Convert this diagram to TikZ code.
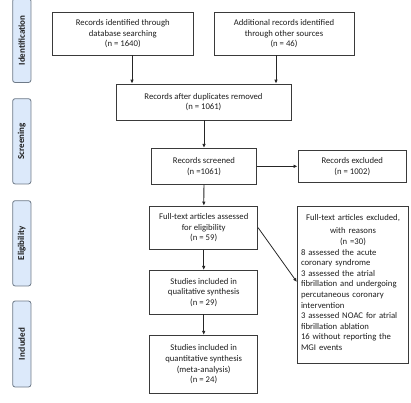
\documentclass[tikz,border=0pt]{standalone}
\usepackage{fontspec}
\setmainfont{Carlito}
\usetikzlibrary{arrows.meta}
\definecolor{tabfill}{HTML}{DCE9FA}
\definecolor{tabdraw}{HTML}{6E7A88}
\definecolor{boxdraw}{HTML}{3A3A3A}
\definecolor{txt}{HTML}{1E1E1E}
\tikzset{
  tab/.style={draw=tabdraw, fill=tabfill, rounded corners=2.5pt, line width=0.8pt,
    minimum width=18.3pt, inner sep=0pt, text=txt},
  tablabel/.style={rotate=90, font=\fontsize{9}{10}\selectfont\bfseries, text=txt},
  box/.style={draw=boxdraw, line width=0.8pt, align=center, inner sep=2pt,
    font=\fontsize{8.7}{10.6}\selectfont, text=txt},
  arr/.style={-{Latex[length=4pt,width=3.6pt]}, line width=0.8pt, draw=black!85}
}
\begin{document}
\begin{tikzpicture}[x=1pt,y=-1pt]
\useasboundingbox (0,0) rectangle (411,402);
% side tabs
\node[tab, minimum height=84pt] (t1) at (21.8,40.5) {};
\node[tablabel] at (t1) {Identification};
\node[tab, minimum height=85.3pt] (t2) at (21.8,141.3) {};
\node[tablabel] at (t2) {Screening};
\node[tab, minimum height=85.3pt] (t3) at (21.8,243.3) {};
\node[tablabel] at (t3) {Eligibility};
\node[tab, minimum height=86pt] (t4) at (21.8,344) {};
\node[tablabel] at (t4) {Included};
% boxes
\node[box, minimum width=140.3pt, minimum height=42.7pt] (b1) at (122.8,33.7)
  {Records identified through\\database searching\\(n = 1640)};
\node[box, minimum width=140pt, minimum height=42.7pt] (b2) at (284,33.7)
  {Additional records identified\\through other sources\\(n = 46)};
\node[box, minimum width=175pt, minimum height=36pt] (b3) at (203.5,102)
  {Records after duplicates removed\\(n = 1061)};
\node[box, minimum width=104.6pt, minimum height=36pt] (b4) at (204,166.3)
  {Records screened\\(n =1061)};
\node[box, minimum width=108.7pt, minimum height=32pt] (b5) at (352.3,166.7)
  {Records excluded\\(n = 1002)};
\node[box, minimum width=108pt, minimum height=43.3pt] (b6) at (203.7,227.7)
  {Full-text articles assessed\\for eligibility\\(n = 59)};
\node[box, minimum width=108pt, minimum height=43.7pt] (b8) at (203.7,292.2)
  {Studies included in\\qualitative synthesis\\(n = 29)};
\node[box, minimum width=108pt, minimum height=58pt] (b9) at (203.7,364.3)
  {Studies included in\\quantitative synthesis\\(meta-analysis)\\(n = 24)};
\node[box, anchor=north, text width=104pt, inner xsep=3.7pt, inner ysep=0pt,
  minimum height=157pt, align=left] (b7) at (353,206)
  {\vspace{3pt}{\centering Full-text articles excluded,\\with reasons\\(n =30)\par}%
  8 assessed the acute\\coronary syndrome\\3 assessed the atrial\\fibrillation and undergoing\\percutaneous coronary\\intervention\\3 assessed NOAC for atrial\\fibrillation ablation\\16 without reporting the\\MGI events\vspace{5pt}};
% connectors
\draw[arr] (b1.south -| 132,0) -- (b3.north -| 132,0);
\draw[arr] (b2.south -| 276,0) -- (b3.north -| 276,0);
\draw[arr] (b3.south -| b4.north) -- (b4.north);
\draw[arr] (b4.east) -- (b5.west |- b4.east);
\draw[arr] (b4) -- (b6);
\draw[arr] (b6) -- (b8);
\draw[arr] (b8) -- (b9);
\draw[arr] (b6.east) -- (b7.west |- 0,282);
\end{tikzpicture}
\end{document}
